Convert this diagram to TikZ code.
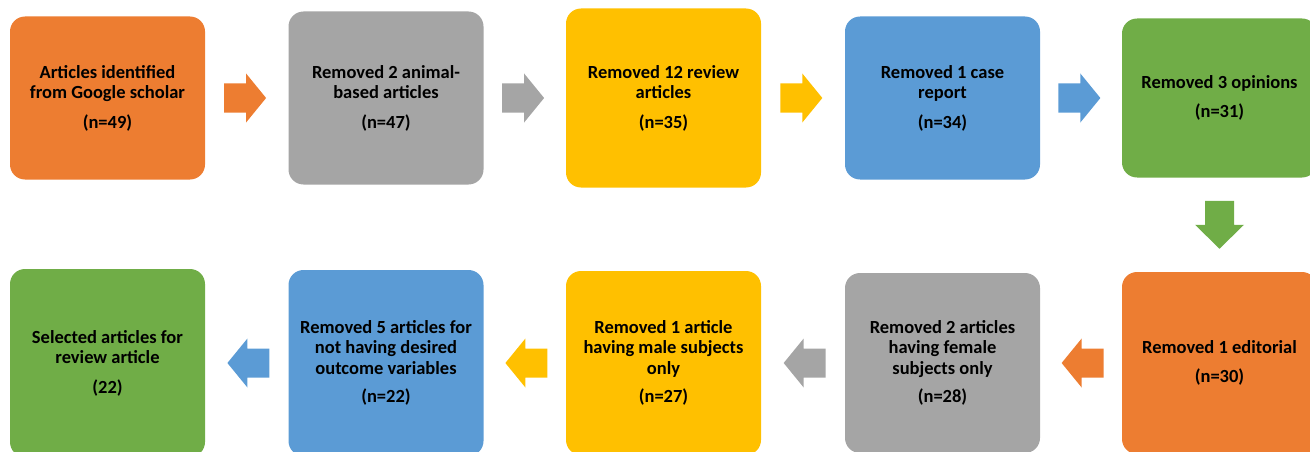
\documentclass[tikz,border=0pt]{standalone}
\usepackage{fontspec}
\setmainfont{Carlito}
\begin{document}
\begin{tikzpicture}[x=1pt,y=-1pt,
  box/.style={rounded corners=15pt, inner sep=0pt, minimum width=195pt, align=center,
    font=\fontsize{18.5}{20.5}\selectfont\bfseries, text=black},
  rarr/.pic={\fill[pic actions] (-21,-14.5) -- (1,-14.5) -- (1,-24.5) -- (21,0) -- (1,24.5) -- (1,14.5) -- (-21,14.5) -- cycle;},
  larr/.pic={\fill[pic actions] (21,-14.5) -- (-1,-14.5) -- (-1,-24.5) -- (-21,0) -- (-1,24.5) -- (-1,14.5) -- (21,14.5) -- cycle;},
  darr/.pic={\fill[pic actions] (-14.5,-24) -- (14.5,-24) -- (14.5,0) -- (24.5,0) -- (0,24) -- (-24.5,0) -- (-14.5,0) -- cycle;}
]
\definecolor{cOrange}{HTML}{ED7D31}
\definecolor{cGray}{HTML}{A5A5A5}
\definecolor{cYellow}{HTML}{FFC000}
\definecolor{cBlue}{HTML}{5B9BD5}
\definecolor{cGreen}{HTML}{70AD47}
\useasboundingbox (0,0) rectangle (1310,452);
\clip (0,0) rectangle (1310,452);
% top row
\node[box, fill=cOrange, minimum height=163pt] (b1) at (107.5,98) {Articles identified\\from Google scholar\\[9pt](n=49)};
\node[box, fill=cGray, minimum height=173pt] (b2) at (386,98) {Removed 2 animal-\\based articles\\[9pt](n=47)};
\node[box, fill=cYellow, minimum height=179pt] (b3) at (663.5,98) {Removed 12 review\\articles\\[9pt](n=35)};
\node[box, fill=cBlue, minimum height=163pt] (b4) at (942.5,98) {Removed 1 case\\report\\[9pt](n=34)};
\node[box, fill=cGreen, minimum height=159pt] (b5) at (1219.5,98) {Removed 3 opinions\\[8pt](n=31)};
% bottom row
\node[box, fill=cOrange, minimum height=182pt] (b6) at (1219.5,363) {Removed 1 editorial\\[8pt](n=30)};
\node[box, fill=cGray, minimum height=180pt] (b7) at (942.5,363) {Removed 2 articles\\having female\\subjects only\\[8pt](n=28)};
\node[box, fill=cYellow, minimum height=184pt] (b8) at (663.5,363) {Removed 1 article\\having male subjects\\only\\[8pt](n=27)};
\node[box, fill=cBlue, minimum height=186pt] (b9) at (386,363) {Removed 5 articles for\\not having desired\\outcome variables\\[8pt](n=22)};
\node[box, fill=cGreen, minimum height=188pt] (b10) at (107.5,363) {Selected articles for\\review article\\[9pt](22)};
% arrows
\path (b1.east) -- (b2.west) coordinate[pos=0.48] (a1);
\path (b2.east) -- (b3.west) coordinate[pos=0.48] (a2);
\path (b3.east) -- (b4.west) coordinate[pos=0.48] (a3);
\path (b4.east) -- (b5.west) coordinate[pos=0.48] (a4);
\path (b5.south) -- (b6.north) coordinate[midway] (a5);
\path (b6.west) -- (b7.east) coordinate[pos=0.48] (a6);
\path (b7.west) -- (b8.east) coordinate[pos=0.48] (a7);
\path (b8.west) -- (b9.east) coordinate[pos=0.48] (a8);
\path (b9.west) -- (b10.east) coordinate[pos=0.48] (a9);
\pic[fill=cOrange] at (a1) {rarr};
\pic[fill=cGray] at (a2) {rarr};
\pic[fill=cYellow] at (a3) {rarr};
\pic[fill=cBlue] at (a4) {rarr};
\pic[fill=cGreen] at (a5) {darr};
\pic[fill=cOrange] at (a6) {larr};
\pic[fill=cGray] at (a7) {larr};
\pic[fill=cYellow] at (a8) {larr};
\pic[fill=cBlue] at (a9) {larr};
\end{tikzpicture}
\end{document}
